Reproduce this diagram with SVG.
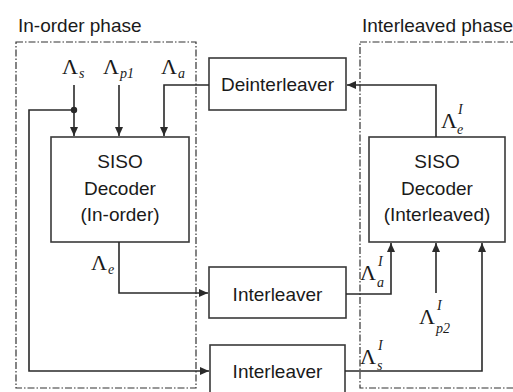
<svg xmlns="http://www.w3.org/2000/svg" width="513" height="392" viewBox="0 0 513 392">
<defs>
<marker id="arr" markerUnits="userSpaceOnUse" markerWidth="10" markerHeight="8" refX="9" refY="4" orient="auto">
<path d="M0,0 L9,4 L0,8 z" fill="#2a2a2a"/>
</marker>
<style>
.box{fill:#fff;stroke:#3a3a3a;stroke-width:1.6}
.phase{fill:none;stroke:#333;stroke-width:1.2;stroke-dasharray:7 2 1.5 2}
.t{font-family:"Liberation Sans",Arial,sans-serif;font-size:19px;fill:#1a1a1a}
.tm{text-anchor:middle}
.g{font-family:"Liberation Serif","Times New Roman",serif;font-size:22px;fill:#1a1a1a}
.s{font-family:"Liberation Serif","Times New Roman",serif;font-size:14px;font-style:italic;fill:#1a1a1a}
.c{fill:none;stroke:#2a2a2a;stroke-width:1.6}
</style>
</defs>
<rect width="513" height="392" fill="#fff"/>

<g id="inorder-phase">
<rect class="phase" x="16" y="42" width="180" height="346"/>
<text class="t" x="18" y="32">In-order phase</text>
</g>
<g id="interleaved-phase">
<rect class="phase" x="360" y="42" width="160" height="346"/>
<text class="t" x="362" y="32">Interleaved phase</text>
</g>

<g id="siso-inorder">
<rect class="box" x="51" y="137" width="138" height="105"/>
<text class="t tm" x="120" y="168">SISO</text>
<text class="t tm" x="120" y="195">Decoder</text>
<text class="t tm" x="120" y="221">(In-order)</text>
</g>
<g id="siso-interleaved">
<rect class="box" x="369" y="137" width="136" height="105"/>
<text class="t tm" x="437" y="168">SISO</text>
<text class="t tm" x="437" y="195">Decoder</text>
<text class="t tm" x="437" y="221">(Interleaved)</text>
</g>
<g id="deinterleaver">
<rect class="box" x="209" y="58" width="137" height="52"/>
<text class="t tm" x="277.5" y="91">Deinterleaver</text>
</g>
<g id="interleaver1">
<rect class="box" x="209" y="267" width="137" height="51"/>
<text class="t tm" x="277.5" y="301">Interleaver</text>
</g>
<g id="interleaver2">
<rect class="box" x="210" y="345" width="135" height="52"/>
<text class="t tm" x="277.5" y="378">Interleaver</text>
</g>

<g id="connectors">
<path class="c" d="M74,85 V136" marker-end="url(#arr)"/>
<circle cx="74" cy="110" r="3.2" fill="#2a2a2a"/>
<path class="c" d="M74,110 H29 V371 H209" marker-end="url(#arr)"/>
<path class="c" d="M119,85 V136" marker-end="url(#arr)"/>
<path class="c" d="M209,85 H164 V136" marker-end="url(#arr)"/>
<path class="c" d="M436,137 V85 H347" marker-end="url(#arr)"/>
<path class="c" d="M119,242 V293 H208" marker-end="url(#arr)"/>
<path class="c" d="M346,294 H391 V243" marker-end="url(#arr)"/>
<path class="c" d="M436,293 V243" marker-end="url(#arr)"/>
<path class="c" d="M345,371 H482 V243" marker-end="url(#arr)"/>
</g>

<g id="labels">
<text class="g" x="62" y="74">Λ<tspan class="s" dx="1" dy="4">s</tspan></text>
<text class="g" x="103" y="74">Λ<tspan class="s" dx="1" dy="4">p1</tspan></text>
<text class="g" x="161" y="74">Λ<tspan class="s" dx="1" dy="4">a</tspan></text>
<text class="g" x="91" y="270">Λ<tspan class="s" dx="1" dy="4">e</tspan></text>
<text class="g" x="441" y="128">Λ</text><text class="s" x="458" y="114">I</text><text class="s" x="457" y="134">e</text>
<text class="g" x="360" y="280">Λ</text><text class="s" x="378" y="266">I</text><text class="s" x="377" y="287">a</text>
<text class="g" x="419" y="324">Λ</text><text class="s" x="437" y="310">I</text><text class="s" x="436" y="333">p2</text>
<text class="g" x="360" y="364">Λ</text><text class="s" x="378" y="350">I</text><text class="s" x="377" y="370">s</text>
</g>
</svg>
